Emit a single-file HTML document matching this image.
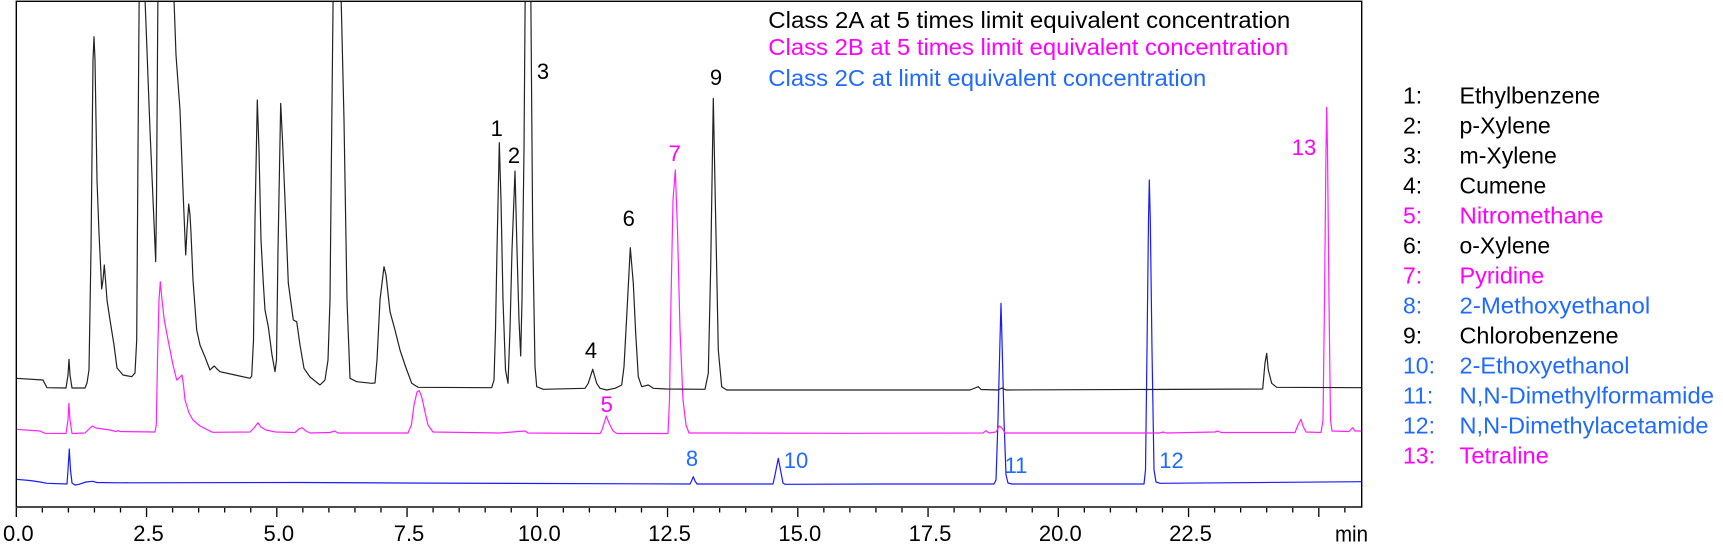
<!DOCTYPE html>
<html><head><meta charset="utf-8"><style>
html,body{margin:0;padding:0;background:#fff;}
svg{display:block;}
text{font-family:"Liberation Sans",sans-serif;}
</style></head><body>
<svg width="1723" height="549" viewBox="0 0 1723 549" xmlns="http://www.w3.org/2000/svg">
<rect x="0" y="0" width="1723" height="549" fill="#fff"/>
<defs><clipPath id="pc"><rect x="16.3" y="1.5" width="1345.4" height="505"/></clipPath></defs>
<g clip-path="url(#pc)" fill="none" stroke-width="1.2" stroke-linejoin="round">
<polyline stroke="#1a1aff" points="16,479.3 30,480.5 40,482 47,483.3 67,484 68,470 69.3,449 70.5,470 72,483 75,485 79,484.3 86,482 92.5,481.3 97,482.5 120,482.8 300,482.5 400,483 690,484 691.5,481 693.3,476.7 695,481 697,484 773,484 775,475 778.3,458.3 780.5,470 783,483 785,484.3 880,484 994,484 996,480 998,420 1000,340 1001,303.3 1002,340 1004,420 1006,475 1008,483 1012,484 1144,484 1145.5,470 1147,350 1148.5,220 1149.3,180 1150.3,220 1152,350 1154,470 1156,482 1160,483.3 1362,481.7"/>
<polyline stroke="#ff22ff" points="16,429.3 40,431 45,433.3 66,433.5 68,420 68.9,403.3 70,420 72,433.5 85,433 90,428 92.5,426 96,428 110,430 116,431.5 118,430.5 120,431.5 155,432 156.3,425 157.5,360 159,300 160.3,281.7 162,300 164,318 166.7,333 170,350 173,365 176.7,380 179,378 182,375 183.5,385 185,400 189,413 193,420 200,426 212.6,432.3 250,432 254,428 257.9,422.7 261,427 266,430 275.6,432 295,432.5 299,429 302,427.7 306,431 310,433 330,432.5 334.6,431 338,433 408,433 411.4,425 414,405 417,392 419.3,390.7 422,398 425,412 428,425 433,432 500,433 525,431 528,433 600,433.5 602,430 606.3,416 609,423 613,431 617,433.5 668,433.5 669.5,400 671,300 673,200 675.3,170 677.5,230 680,330 683,400 686,425 689,433 720,433 850,433.3 983,433 986,430.7 989,433 996,432 999.3,426 1002,428 1005,433 1160,433 1163.5,432 1166,433 1215,432 1218,431 1221,432.5 1295,432.5 1298,425 1301,419.3 1303,426 1306,432 1321,432.5 1323,420 1324.5,300 1326,150 1326.7,107.3 1327.5,150 1329,300 1330.5,420 1332,431 1349,431.5 1352.7,427.7 1355,431 1362,431"/>
<polyline stroke="#222" points="16,378.3 43,380 47,387.7 66,388 68,375 69,359.3 70,375 72,388 85,388 87,383 89,370 91,250 93,60 94,36.7 95,60 97,180 99,233 101.7,289 103,280 104.3,265 105.5,280 107,300 110,320 114,345 117,368 123,375 131.7,376.7 135,373 136.7,340 138,150 139.3,-20 144.3,-20 150,130 155.7,261.7 156.5,200 158,-20 173.3,-20 176,55 180,110 183,190 185.7,255 187,230 188.7,204 190,215 191,233 193,280 196.7,330 200,345 205,357 210,370 212,368 214.3,366 217,369 220,371.7 235,375 250,378.3 251.7,376 253.5,340 255,220 257.3,100 259,150 261,240 263.3,283 265,310 268.3,326.7 272,355 275,371.7 276.5,360 278,250 280.7,103.3 282.5,140 285,200 288.3,283 293.3,320 296.7,321.7 300,345 304,368.3 310,377 320,385 325,380 328,360 330,300 331.5,150 333.3,-20 340.7,-20 344,120 347,300 350,378.3 356.7,381.7 371.7,383.3 375,383 377,360 380,300 384,266.7 386,275 390,311.7 395,330 400,350 405,365 411.7,383.3 418,387.3 491.7,387.7 494,380 495.5,330 497,250 499.3,142.7 501,200 503,300 505.5,370 508,383.3 510,330 512,250 515,171 517,250 519,320 520.7,356 522,300 524,150 525.3,-20 530.7,-20 532.7,233 535,366.7 536.7,386.7 543.3,389.3 585,388.3 588.3,383.3 592.7,369.3 596.7,383.3 600,388.3 606.7,390 615,388.3 621.7,385 624,366.7 626.7,316.7 630.3,247.7 633.3,283.3 635.7,333.3 638.3,376.7 641.7,386.7 648.3,385 653.3,388.3 666.7,389 705,389.3 708.3,373.3 710.7,266.7 713.3,98.3 715.3,200 718.3,350 721.7,386.7 726.7,390 970,390 975,388 978.3,386.7 981,389.5 998,390 1002,388 1006,390 1262.7,389 1265,363 1266.7,353.3 1268.3,370 1271.7,383.3 1276.7,387.3 1362,387.7"/>
</g>
<rect x="16.3" y="1.3" width="1345.4" height="505.7" fill="none" stroke="#000" stroke-width="1.4"/>
<path stroke="#000" stroke-width="1.3" fill="none" d="M16.3 508V517 M146.55 508V517 M276.8 508V517 M407.05 508V517 M537.3 508V517 M667.55 508V517 M797.8 508V517 M928.05 508V517 M1058.3 508V517 M1188.55 508V517 M1318.8 508V517
M42.35 508V512.5 M68.4 508V512.5 M94.45 508V512.5 M120.5 508V512.5 M172.6 508V512.5 M198.65 508V512.5 M224.7 508V512.5 M250.75 508V512.5 M302.85 508V512.5 M328.9 508V512.5 M354.95 508V512.5 M381 508V512.5 M433.1 508V512.5 M459.15 508V512.5 M485.2 508V512.5 M511.25 508V512.5 M563.35 508V512.5 M589.4 508V512.5 M615.45 508V512.5 M641.5 508V512.5 M693.6 508V512.5 M719.65 508V512.5 M745.7 508V512.5 M771.75 508V512.5 M823.85 508V512.5 M849.9 508V512.5 M875.95 508V512.5 M902 508V512.5 M954.1 508V512.5 M980.15 508V512.5 M1006.2 508V512.5 M1032.25 508V512.5 M1084.35 508V512.5 M1110.4 508V512.5 M1136.45 508V512.5 M1162.5 508V512.5 M1214.6 508V512.5 M1240.65 508V512.5 M1266.7 508V512.5 M1292.75 508V512.5 M1344.85 508V512.5"/>
<g font-size="22" fill="#000" text-anchor="middle">
<text x="18.3" y="541">0.0</text>
<text x="148.5" y="541">2.5</text>
<text x="278.8" y="541">5.0</text>
<text x="409" y="541">7.5</text>
<text x="539.3" y="541">10.0</text>
<text x="669.5" y="541">12.5</text>
<text x="799.8" y="541">15.0</text>
<text x="930" y="541">17.5</text>
<text x="1060.3" y="541">20.0</text>
<text x="1190.5" y="541">22.5</text>
</g>
<text x="1335" y="541.5" font-size="22" fill="#000" textLength="33" lengthAdjust="spacingAndGlyphs">min</text>
<g font-size="23">
<text x="768.3" y="28" fill="#000" textLength="522" lengthAdjust="spacingAndGlyphs">Class 2A at 5 times limit equivalent concentration</text>
<text x="768.3" y="55" fill="#ff00ff" textLength="520" lengthAdjust="spacingAndGlyphs">Class 2B at 5 times limit equivalent concentration</text>
<text x="768.3" y="86" fill="#1f6bff" textLength="438" lengthAdjust="spacingAndGlyphs">Class 2C at limit equivalent concentration</text>
</g>
<g font-size="22" text-anchor="middle">
<text x="496.7" y="136" fill="#000">1</text>
<text x="514" y="163" fill="#000">2</text>
<text x="543" y="79" fill="#000">3</text>
<text x="591" y="358" fill="#000">4</text>
<text x="606.7" y="412" fill="#ff00ff">5</text>
<text x="628.7" y="226" fill="#000">6</text>
<text x="674.7" y="161" fill="#ff00ff">7</text>
<text x="692" y="466" fill="#1f6bff">8</text>
<text x="716" y="85" fill="#000">9</text>
<text x="796" y="468" fill="#1f6bff">10</text>
<text x="1016" y="473" fill="#1f6bff">11</text>
<text x="1171.5" y="468" fill="#1f6bff">12</text>
<text x="1304" y="155" fill="#ff00ff">13</text>
</g>
<g font-size="23">
<text x="1403" y="103.3" fill="#000">1:</text><text x="1459.5" y="103.3" fill="#000" textLength="140.7" lengthAdjust="spacingAndGlyphs">Ethylbenzene</text>
<text x="1403" y="133.3" fill="#000">2:</text><text x="1459.5" y="133.3" fill="#000" textLength="91.3" lengthAdjust="spacingAndGlyphs">p-Xylene</text>
<text x="1403" y="163.3" fill="#000">3:</text><text x="1459.5" y="163.3" fill="#000" textLength="97.3" lengthAdjust="spacingAndGlyphs">m-Xylene</text>
<text x="1403" y="193.3" fill="#000">4:</text><text x="1459.5" y="193.3" fill="#000" textLength="86.7" lengthAdjust="spacingAndGlyphs">Cumene</text>
<text x="1403" y="223.3" fill="#ff00ff">5:</text><text x="1459.5" y="223.3" fill="#ff00ff" textLength="144" lengthAdjust="spacingAndGlyphs">Nitromethane</text>
<text x="1403" y="253.3" fill="#000">6:</text><text x="1459.5" y="253.3" fill="#000" textLength="90.7" lengthAdjust="spacingAndGlyphs">o-Xylene</text>
<text x="1403" y="283.3" fill="#ff00ff">7:</text><text x="1459.5" y="283.3" fill="#ff00ff" textLength="84.7" lengthAdjust="spacingAndGlyphs">Pyridine</text>
<text x="1403" y="313.3" fill="#1f6bff">8:</text><text x="1459.5" y="313.3" fill="#1f6bff" textLength="190.7" lengthAdjust="spacingAndGlyphs">2-Methoxyethanol</text>
<text x="1403" y="343.3" fill="#000">9:</text><text x="1459.5" y="343.3" fill="#000" textLength="159" lengthAdjust="spacingAndGlyphs">Chlorobenzene</text>
<text x="1403" y="373.3" fill="#1f6bff">10:</text><text x="1459.5" y="373.3" fill="#1f6bff" textLength="170" lengthAdjust="spacingAndGlyphs">2-Ethoxyethanol</text>
<text x="1403" y="403.3" fill="#1f6bff">11:</text><text x="1459.5" y="403.3" fill="#1f6bff" textLength="254.5" lengthAdjust="spacingAndGlyphs">N,N-Dimethylformamide</text>
<text x="1403" y="433.3" fill="#1f6bff">12:</text><text x="1459.5" y="433.3" fill="#1f6bff" textLength="249" lengthAdjust="spacingAndGlyphs">N,N-Dimethylacetamide</text>
<text x="1403" y="463.3" fill="#ff00ff">13:</text><text x="1459.5" y="463.3" fill="#ff00ff" textLength="89.3" lengthAdjust="spacingAndGlyphs">Tetraline</text>
</g>
</svg>
</body></html>
